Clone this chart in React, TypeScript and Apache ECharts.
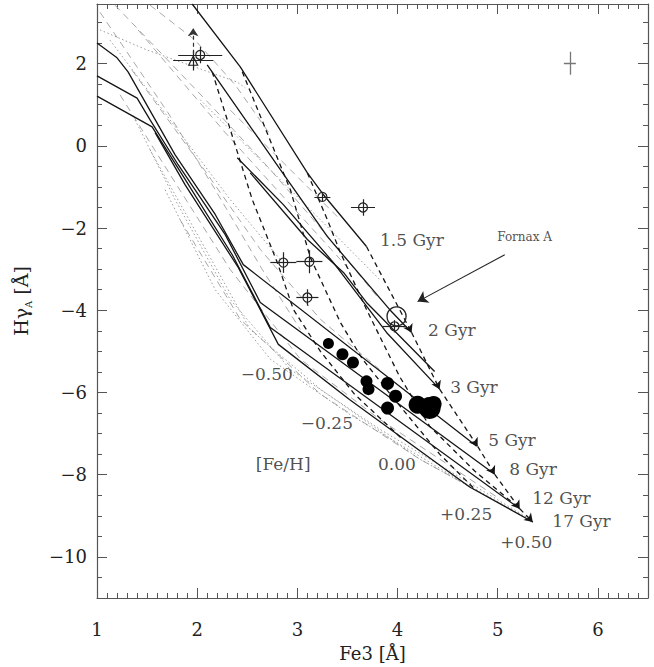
import React, { useEffect, useRef } from "react";
import * as echarts from "echarts";

type Pt = [number, number];

// ---- model grid: lines of constant age (solid) ----
const age1p5: Pt[] = [[1.95, 3.45], [2.43, 1.92], [3.10, -0.66], [3.26, -1.19], [3.69, -2.45]];
const age2: Pt[] = [[2.10, 1.97], [2.83, -0.58], [3.30, -2.21], [3.92, -3.98], [4.14, -4.54]];
const age3: Pt[] = [[2.40, -0.29], [2.86, -1.43], [3.36, -2.84], [3.89, -4.54], [4.42, -5.92]];
const age5: Pt[] = [[1.00, 2.50], [1.20, 2.14], [1.31, 1.80], [1.78, -0.22], [2.18, -1.67], [2.46, -2.89], [4.79, -7.31]];
const age8: Pt[] = [[1.00, 1.70], [1.40, 1.16], [1.53, 0.63], [1.81, -0.46], [2.28, -2.16], [2.63, -3.81], [4.97, -7.99]];
const age12: Pt[] = [[1.00, 1.21], [1.55, 0.46], [1.85, -0.70], [2.35, -2.65], [2.73, -4.42], [5.22, -8.83]];
const age17: Pt[] = [[1.58, 0.32], [1.88, -0.95], [2.41, -2.96], [2.81, -4.83], [3.52, -6.17], [4.72, -8.30], [5.35, -9.15]];
const ageExtra: Pt[] = [[2.53, -0.66], [3.10, -2.28], [3.46, -3.08], [3.69, -3.81], [4.37, -5.49]];

// ---- lines of constant metallicity (black dashed) ----
const feA: Pt[] = [[2.15, 1.80], [2.55, -1.31], [2.80, -2.84], [2.96, -3.98], [3.23, -5.00], [3.57, -6.04], [4.05, -7.14]];
const feB: Pt[] = [[2.45, 1.80], [2.93, -1.07], [3.13, -2.72], [3.43, -4.30], [3.65, -5.19], [3.97, -6.17], [4.42, -7.50], [4.77, -8.35]];
const feC: Pt[] = [[3.10, -0.66], [3.30, -1.80], [3.43, -2.60], [3.69, -3.98], [4.02, -5.61], [4.32, -6.82], [4.77, -7.91], [5.22, -8.83]];
const feD: Pt[] = [[3.69, -2.45], [4.14, -4.54], [4.42, -5.92], [4.80, -7.31], [4.97, -7.99], [5.22, -8.83], [5.35, -9.15]];

// ---- second model set (grey) ----
const greyDashed: Pt[][] = [
  [[1.03, 3.25], [1.71, 0.80], [2.18, -1.07], [2.65, -3.01], [3.03, -4.47]],
  [[1.18, 3.42], [1.61, 2.33], [2.15, 0.95], [2.73, -0.58], [3.33, -2.28], [3.82, -3.74]],
  [[1.41, 2.82], [2.28, 0.32], [2.93, -1.43], [3.52, -3.01]],
  [[1.35, 1.84], [2.05, -0.51], [2.63, -2.52], [3.23, -4.22], [3.82, -5.44]],
  [[1.53, 3.42], [1.98, 2.57], [2.38, 1.48], [2.73, 0.27]],
  [[1.23, 1.24], [1.73, -0.70], [2.33, -3.01], [3.03, -5.19], [3.82, -6.65], [5.02, -8.59]],
  [[2.33, 0.87], [2.93, -0.58], [3.43, -1.80]],
  [[1.83, -1.80], [2.43, -4.22], [3.23, -6.04], [4.22, -7.62], [5.22, -8.96]],
];
const greyDotted: Pt[][] = [
  [[1.03, 2.82], [1.50, 2.33], [2.40, 1.55], [2.48, 1.41]],
  [[1.38, 0.63], [1.78, -1.31], [2.33, -3.74], [2.93, -5.44], [3.82, -6.89], [4.82, -8.35], [5.32, -9.08]],
  [[1.53, -0.10], [2.03, -2.28], [2.53, -4.47], [3.23, -5.92], [4.22, -7.62], [5.27, -9.03]],
  [[1.68, -1.07], [2.18, -3.50], [2.73, -5.19], [3.52, -6.53], [4.52, -7.99], [5.30, -9.08]],
  [[2.03, 1.12], [2.63, -0.34], [3.23, -1.80], [3.82, -3.25]],
  [[1.13, 2.57], [1.73, 0.63], [2.33, -1.31], [2.83, -2.77]],
];

// ---- observations: [Fe3, HgA, errFe3, errHgA] ----
const openPoints: [number, number, number, number][] = [
  [3.25, -1.24, 0.08, 0.10],
  [3.655, -1.50, 0.12, 0.20],
  [2.86, -2.84, 0.13, 0.25],
  [3.12, -2.82, 0.13, 0.28],
  [3.10, -3.69, 0.11, 0.20],
  [3.97, -4.39, 0.12, 0.15],
  [2.03, 2.21, 0.22, 0.20],
];
const trianglePoint: [number, number, number, number] = [1.96, 2.07, 0.20, 0.24];
const triangleLimitTop = 2.86;
const fornaxA: Pt = [3.99, -4.15];
const typicalError: [number, number, number, number] = [5.72, 2.01, 0.06, 0.28];
const filledPoints: [number, number, number][] = [
  [3.31, -4.81, 11], [3.45, -5.07, 12], [3.555, -5.27, 12], [3.69, -5.73, 12], [3.71, -5.92, 12],
  [3.90, -5.78, 13], [3.98, -6.09, 13], [3.90, -6.38, 13],
  [4.20, -6.30, 18], [4.32, -6.38, 22], [4.36, -6.28, 16],
];

// ---- labels ----
const ageLabels: [number, number, string][] = [
  [3.82, -2.28, "1.5 Gyr"], [4.30, -4.47, "2 Gyr"], [4.52, -5.87, "3 Gyr"], [4.90, -7.16, "5 Gyr"],
  [5.11, -7.86, "8 Gyr"], [5.34, -8.57, "12 Gyr"], [5.54, -9.13, "17 Gyr"],
];
const fehLabels: [number, number, string][] = [
  [2.43, -5.56, "\u22120.50"], [3.03, -6.75, "\u22120.25"], [3.80, -7.74, "0.00"],
  [4.42, -8.96, "+0.25"], [5.02, -9.64, "+0.50"], [2.58, -7.74, "[Fe/H]"],
];
const fornaxLabel: [number, number, string] = [4.99, -2.23, "Fornax A"];
const fornaxArrow: [Pt, Pt] = [[5.07, -2.65], [4.20, -3.79]];

const FONT = "DejaVu Serif";
const AX = "#555";
const INK = "#151515";

const fmtMinus = (v: number) => String(v).replace("-", "\u2212");

function lineSeries(data: Pt[], style: any, z = 2) {
  return { type: "line", data, showSymbol: false, symbol: "none", lineStyle: style, silent: true, clip: true, z };
}

function baseAxis(extra: any) {
  return {
    type: "value",
    axisLine: { show: true, onZero: false, lineStyle: { color: AX, width: 1.2 } },
    axisTick: { show: true, inside: true, length: 10, lineStyle: { color: AX, width: 1 } },
    splitLine: { show: false },
    minorSplitLine: { show: false },
    ...extra,
  };
}

export default function App() {
  const ref = useRef<HTMLDivElement>(null);
  useEffect(() => {
    if (!ref.current) return;
    const chart = echarts.init(ref.current, undefined, { renderer: "svg" });

    const errSegs: any[] = [];
    [...openPoints, trianglePoint].forEach(([x, y, xe, ye]) => {
      errSegs.push({ coords: [[x - xe, y], [x + xe, y]] });
      errSegs.push({ coords: [[x, y - ye], [x, y + ye]] });
    });
    const typSegs = [
      { coords: [[typicalError[0] - typicalError[2], typicalError[1]], [typicalError[0] + typicalError[2], typicalError[1]]] },
      { coords: [[typicalError[0], typicalError[1] - typicalError[3]], [typicalError[0], typicalError[1] + typicalError[3]]] },
    ];
    const feDSegs = feD.slice(1).map((p, i) => ({ coords: [feD[i], p] }));

    const xCommon = { min: 1, max: 6.5, interval: 1, minorTick: { show: true, splitNumber: 10, length: 5, lineStyle: { color: AX } } };
    const yCommon = { min: -11, max: 3.45, splitNumber: 7, minorTick: { show: true, splitNumber: 4, length: 5, lineStyle: { color: AX } } };

    const option: any = {
      animation: false,
      backgroundColor: "#fff",
      grid: { left: 97, right: 6, top: 4, bottom: 67, containLabel: false },
      xAxis: [
        baseAxis({
          ...xCommon,
          position: "bottom",
          axisLabel: { show: true, showMaxLabel: false, margin: 22, fontFamily: FONT, fontSize: 18, color: "#222", formatter: fmtMinus },
          name: "Fe3 [\u00C5]",
          nameLocation: "middle",
          nameGap: 46,
          nameTextStyle: { fontFamily: FONT, fontSize: 18, color: "#222" },
        }),
        baseAxis({ ...xCommon, position: "top", axisLabel: { show: false } }),
      ],
      yAxis: [
        baseAxis({
          ...yCommon,
          position: "left",
          axisLabel: { show: true, showMinLabel: false, showMaxLabel: false, margin: 10, fontFamily: FONT, fontSize: 18, color: "#222", formatter: fmtMinus },
          name: "{a|H\u03B3}{s|A}{a| [\u00C5]}",
          nameLocation: "middle",
          nameGap: 64,
          nameTextStyle: {
            fontFamily: FONT, fontSize: 19, color: "#222",
            rich: {
              a: { fontFamily: FONT, fontSize: 19, color: "#222", lineHeight: 24 },
              s: { fontFamily: FONT, fontSize: 10, color: "#222", lineHeight: 24, verticalAlign: "bottom", padding: [6, 0, 0, 0] },
            },
          },
        }),
        baseAxis({ ...yCommon, position: "right", axisLabel: { show: false } }),
      ],
      series: [
        ...greyDashed.map((d) => lineSeries(d, { color: "#a8a8a8", width: 1, type: [7, 5] }, 1)),
        ...greyDotted.map((d) => lineSeries(d, { color: "#9a9a9a", width: 1, type: [1.5, 2.5] }, 1)),
        ...[age1p5, age2, age3, age5, age8, age12, age17, ageExtra].map((d) => lineSeries(d, { color: INK, width: 1.3 }, 3)),
        ...[feA, feB, feC].map((d) => lineSeries(d, { color: INK, width: 1.3, type: [5, 4] }, 3)),
        {
          type: "lines", coordinateSystem: "cartesian2d", data: feDSegs, silent: true, z: 3,
          symbol: ["none", "arrow"], symbolSize: 8,
          lineStyle: { color: INK, width: 1.3, type: [5, 4], opacity: 1 },
        },
        {
          type: "lines", coordinateSystem: "cartesian2d", data: errSegs, silent: true, z: 4,
          symbol: "none", lineStyle: { color: "#222", width: 1.2, opacity: 1 },
        },
        {
          type: "lines", coordinateSystem: "cartesian2d", data: typSegs, silent: true, z: 4,
          symbol: "none", lineStyle: { color: "#777", width: 1.3, opacity: 1 },
        },
        {
          type: "lines", coordinateSystem: "cartesian2d", silent: true, z: 4,
          data: [{ coords: [[trianglePoint[0], trianglePoint[1]], [trianglePoint[0], triangleLimitTop]] }],
          symbol: ["none", "arrow"], symbolSize: 8,
          lineStyle: { color: "#333", width: 1.2, type: [4, 3], opacity: 1 },
        },
        {
          type: "lines", coordinateSystem: "cartesian2d", silent: true, z: 4,
          data: [{ coords: fornaxArrow }],
          symbol: ["none", "arrow"], symbolSize: 10,
          lineStyle: { color: "#222", width: 1.1, opacity: 1 },
        },
        {
          type: "scatter", silent: true, z: 5, symbol: "circle", symbolSize: 9,
          data: openPoints.map((p) => [p[0], p[1]]),
          itemStyle: { color: "rgba(255,255,255,0)", borderColor: "#222", borderWidth: 1.2, opacity: 1 },
        },
        {
          type: "scatter", silent: true, z: 5, symbol: "triangle", symbolSize: 9,
          data: [[trianglePoint[0], trianglePoint[1]]],
          itemStyle: { color: "rgba(255,255,255,0)", borderColor: "#222", borderWidth: 1.2, opacity: 1 },
        },
        {
          type: "scatter", silent: true, z: 5, symbol: "circle", symbolSize: 19,
          data: [fornaxA],
          itemStyle: { color: "rgba(255,255,255,0)", borderColor: "#222", borderWidth: 1.3, opacity: 1 },
        },
        {
          type: "scatter", silent: true, z: 6, symbol: "circle",
          data: filledPoints.map((p) => ({ value: [p[0], p[1]], symbolSize: p[2] })),
          itemStyle: { color: "#000", opacity: 1 },
        },
        {
          type: "scatter", silent: true, z: 7, symbol: "circle", symbolSize: 1,
          data: [...ageLabels, ...fehLabels].map((l) => ({ value: [l[0], l[1]], name: l[2] })),
          itemStyle: { color: "rgba(0,0,0,0)" },
          label: { show: true, formatter: "{b}", position: "right", distance: 0, fontFamily: FONT, fontSize: 17, color: "#222" },
        },
        {
          type: "scatter", silent: true, z: 7, symbol: "circle", symbolSize: 1,
          data: [{ value: [fornaxLabel[0], fornaxLabel[1]], name: fornaxLabel[2] }],
          itemStyle: { color: "rgba(0,0,0,0)" },
          label: { show: true, formatter: "{b}", position: "right", distance: 0, fontFamily: FONT, fontSize: 12, color: "#222" },
        },
      ],
    };
    chart.setOption(option);
    return () => chart.dispose();
  }, []);
  return (
    <div
      ref={ref}
      style={{ position: "fixed", left: 0, top: 0, width: 654, height: 667, background: "#fff" }}
    />
  );
}
